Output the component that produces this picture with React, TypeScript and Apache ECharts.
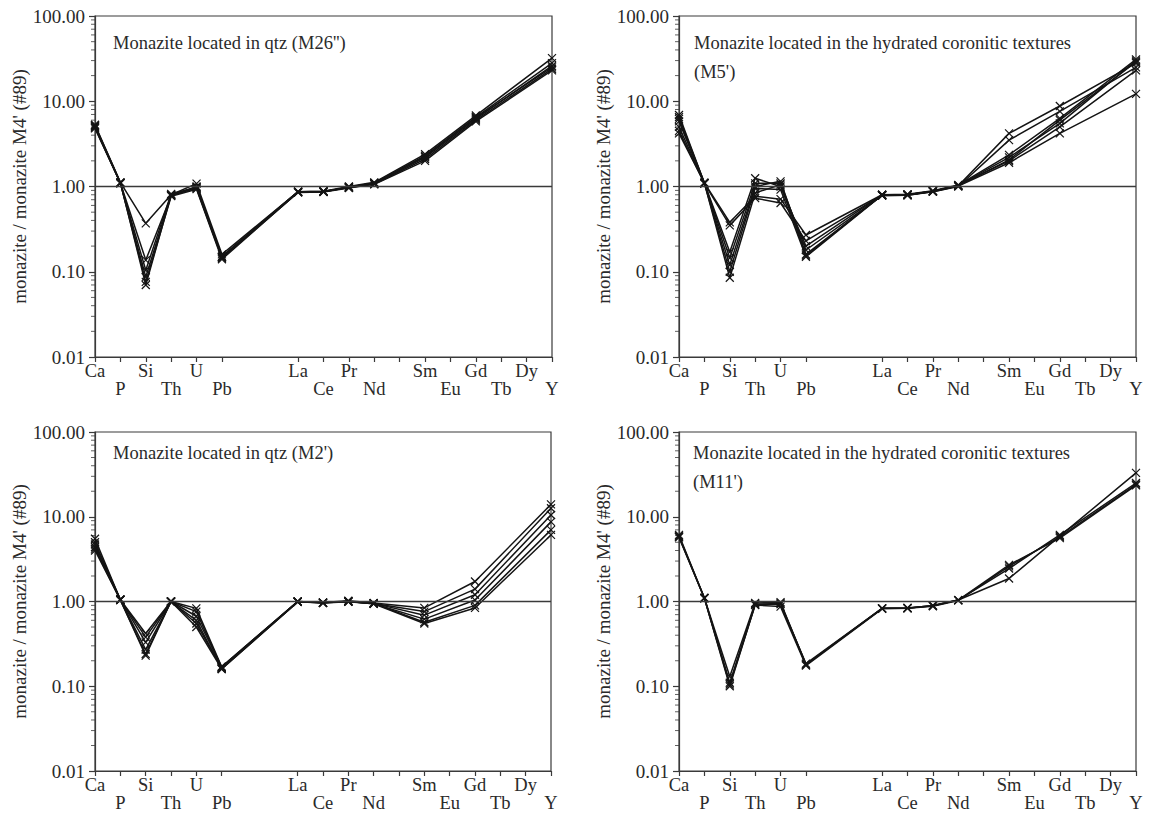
import React, { useEffect, useRef } from "react";
import * as echarts from "echarts";

const FONT = "'Liberation Serif', 'DejaVu Serif', serif";
const INK = "#141414";
const AXIS = "#3a3a3a";

// x categories (empty = gap positions)
const elements = ["Ca", "P", "Si", "Th", "U", "Pb", "", "", "La", "Ce", "Pr", "Nd", "", "Sm", "Eu", "Gd", "Tb", "Dy", "Y"];
const bottomRowLabels = ["P", "Th", "Pb", "Ce", "Nd", "Eu", "Tb", "Y"];
const yTickLabels = ["0.01", "0.10", "1.00", "10.00", "100.00"];
const minorTickValues = [
  0.02, 0.03, 0.04, 0.05, 0.06, 0.07, 0.08, 0.09,
  0.2, 0.3, 0.4, 0.5, 0.6, 0.7, 0.8, 0.9,
  2, 3, 4, 5, 6, 7, 8, 9,
  20, 30, 40, 50, 60, 70, 80, 90,
];

// order: Ca, P, Si, Th, U, Pb, -, -, La, Ce, Pr, Nd, -, Sm, Eu, Gd, Tb, Dy, Y
const _ = null;
// Panel 1: Monazite located in qtz (M26'')
const m26a = [5.3, 1.12, 0.37, 0.80, 1.08, 0.16, _, _, 0.87, 0.88, 1.00, 1.12, _, 2.40, _, 6.8, _, _, 32];
const m26b = [5.1, 1.10, 0.137, 0.78, 1.00, 0.15, _, _, 0.86, 0.87, 0.98, 1.10, _, 2.30, _, 6.5, _, _, 28];
const m26c = [5.0, 1.10, 0.104, 0.82, 0.97, 0.15, _, _, 0.87, 0.88, 0.97, 1.08, _, 2.20, _, 6.2, _, _, 26];
const m26d = [4.9, 1.09, 0.087, 0.79, 0.95, 0.145, _, _, 0.85, 0.86, 0.96, 1.07, _, 2.10, _, 6.0, _, _, 24];
const m26e = [4.8, 1.10, 0.076, 0.77, 0.93, 0.14, _, _, 0.86, 0.87, 0.97, 1.06, _, 2.00, _, 5.8, _, _, 23];
const m26f = [5.2, 1.11, 0.070, 0.80, 0.98, 0.15, _, _, 0.87, 0.87, 0.99, 1.09, _, 2.25, _, 6.4, _, _, 25];

// Panel 2: hydrated coronitic textures (M5')
const m5a = [6.5, 1.10, 0.38, 0.77, 0.71, 0.27, _, _, 0.80, 0.80, 0.88, 1.02, _, 4.2, _, 8.8, _, _, 28];
const m5b = [5.8, 1.09, 0.35, 0.73, 0.64, 0.23, _, _, 0.79, 0.79, 0.87, 1.00, _, 3.5, _, 7.6, _, _, 25];
const m5c = [6.9, 1.10, 0.17, 1.25, 1.00, 0.20, _, _, 0.80, 0.81, 0.89, 1.04, _, 2.35, _, 6.3, _, _, 31];
const m5d = [6.2, 1.10, 0.145, 1.09, 1.09, 0.18, _, _, 0.78, 0.79, 0.88, 1.03, _, 2.2, _, 5.5, _, _, 30];
const m5e = [5.0, 1.10, 0.12, 1.00, 1.15, 0.16, _, _, 0.79, 0.80, 0.88, 1.02, _, 2.05, _, 6.0, _, _, 29];
const m5f = [4.5, 1.09, 0.10, 0.95, 0.92, 0.15, _, _, 0.79, 0.80, 0.87, 1.01, _, 1.9, _, 4.2, _, _, 12.2];
const m5g = [4.2, 1.10, 0.085, 0.84, 1.05, 0.155, _, _, 0.80, 0.80, 0.88, 1.03, _, 2.0, _, 5.0, _, _, 23];

// Panel 3: Monazite located in qtz (M2')
const m2a = [5.5, 1.05, 0.42, 1.00, 0.83, 0.17, _, _, 1.00, 0.97, 1.02, 0.96, _, 0.84, _, 1.72, _, _, 14];
const m2b = [5.0, 1.05, 0.38, 1.00, 0.76, 0.165, _, _, 0.99, 0.97, 1.00, 0.95, _, 0.76, _, 1.40, _, _, 12.6];
const m2c = [4.7, 1.06, 0.33, 1.00, 0.67, 0.17, _, _, 1.00, 0.96, 1.01, 0.95, _, 0.69, _, 1.20, _, _, 10.5];
const m2d = [4.4, 1.05, 0.27, 0.99, 0.60, 0.16, _, _, 0.99, 0.97, 1.00, 0.94, _, 0.62, _, 1.04, _, _, 8.7];
const m2e = [4.2, 1.04, 0.24, 1.00, 0.55, 0.165, _, _, 1.00, 0.97, 1.00, 0.95, _, 0.57, _, 0.90, _, _, 7.0];
const m2f = [4.0, 1.05, 0.23, 1.00, 0.50, 0.16, _, _, 0.99, 0.96, 0.99, 0.94, _, 0.55, _, 0.84, _, _, 6.1];

// Panel 4: hydrated coronitic textures (M11')
const m11a = [6.1, 1.10, 0.13, 0.96, 0.98, 0.18, _, _, 0.83, 0.83, 0.90, 1.04, _, 1.87, _, 5.9, _, _, 33];
const m11b = [5.9, 1.10, 0.11, 0.93, 0.95, 0.18, _, _, 0.83, 0.84, 0.89, 1.04, _, 2.45, _, 6.1, _, _, 25];
const m11c = [5.8, 1.09, 0.105, 0.91, 0.87, 0.175, _, _, 0.82, 0.83, 0.88, 1.03, _, 2.6, _, 5.8, _, _, 24];
const m11d = [5.7, 1.10, 0.10, 0.92, 0.93, 0.185, _, _, 0.83, 0.84, 0.89, 1.04, _, 2.7, _, 5.6, _, _, 23.5];

const panelData = [
  [m26a, m26b, m26c, m26d, m26e, m26f],
  [m5a, m5b, m5c, m5d, m5e, m5f, m5g],
  [m2a, m2b, m2c, m2d, m2e, m2f],
  [m11a, m11b, m11c, m11d],
];

const panelTitles = [
  "Monazite located in qtz (M26'')",
  "Monazite located in the hydrated coronitic textures\n(M5')",
  "Monazite located in qtz (M2')",
  "Monazite located in the hydrated coronitic textures\n(M11')",
];

const yName = "monazite / monazite M4' (#89)";

const GRIDS = [
  { left: 95, top: 16, width: 457, height: 341 },
  { left: 679, top: 16, width: 457, height: 341 },
  { left: 95, top: 432, width: 456, height: 339 },
  { left: 679, top: 432, width: 457, height: 339 },
];
const TITLE_POS = [
  { left: 113, top: 28 },
  { left: 694, top: 28 },
  { left: 113, top: 438 },
  { left: 693, top: 438 },
];

const CROSS = "path://M0,0L10,10M10,0L0,10";

export default function App() {
  const ref = useRef<HTMLDivElement>(null);
  useEffect(() => {
    if (!ref.current) return;
    const chart = echarts.init(ref.current, null, { renderer: "svg" });

    const series: any[] = [];
    panelData.forEach((sets, p) => {
      sets.forEach((d, k) => {
        series.push({
          type: "line",
          xAxisIndex: p,
          yAxisIndex: p,
          data: d,
          connectNulls: true,
          symbol: CROSS,
          symbolSize: 8,
          lineStyle: { color: INK, width: 1.5 },
          itemStyle: { color: "none", borderColor: INK, borderWidth: 1.2 },
          emphasis: { disabled: true },
          markLine:
            k === 0
              ? {
                  silent: true,
                  symbol: "none",
                  label: { show: false },
                  lineStyle: { color: AXIS, width: 1.3, type: "solid" },
                  data: [{ yAxis: 1 }],
                }
              : undefined,
        });
      });
      series.push({
        type: "scatter",
        xAxisIndex: p,
        yAxisIndex: p,
        data: minorTickValues.map((v) => [0, v]),
        symbol: "rect",
        symbolSize: [4, 1],
        symbolOffset: [-2, 0],
        itemStyle: { color: AXIS },
        silent: true,
        clip: false,
      });
    });

    const option: any = {
      animation: false,
      backgroundColor: "#ffffff",
      title: panelTitles.map((t, i) => ({
        text: t,
        left: TITLE_POS[i].left,
        top: TITLE_POS[i].top,
        padding: 0,
        textStyle: {
          fontFamily: FONT,
          fontSize: 18.5,
          fontWeight: "normal",
          color: "#2a2a2a",
          lineHeight: 29,
        },
      })),
      grid: GRIDS.map((g) => ({
        ...g,
        show: true,
        borderColor: AXIS,
        borderWidth: 1.2,
        backgroundColor: "transparent",
        containLabel: false,
      })),
      xAxis: GRIDS.map((_g, i) => ({
        type: "category",
        gridIndex: i,
        data: elements,
        boundaryGap: false,
        axisLine: { show: true, lineStyle: { color: AXIS, width: 1.2 } },
        axisTick: {
          show: true,
          interval: (idx: number) => idx !== 6 && idx !== 7,
          length: 5,
          lineStyle: { color: AXIS, width: 1.2 },
        },
        axisLabel: {
          interval: 0,
          fontFamily: FONT,
          fontSize: 18.5,
          color: "#2a2a2a",
          lineHeight: 18,
          margin: 5,
          formatter: (v: string) => (bottomRowLabels.includes(v) ? "\n" + v : v),
        },
        splitLine: { show: false },
      })),
      yAxis: GRIDS.map((_g, i) => ({
        type: "log",
        logBase: 10,
        gridIndex: i,
        min: 0.01,
        max: 100,
        axisLine: { show: true, lineStyle: { color: AXIS, width: 1.2 } },
        axisTick: { show: true, length: 6, lineStyle: { color: AXIS, width: 1.2 } },
        axisLabel: {
          fontFamily: FONT,
          fontSize: 19,
          color: "#2a2a2a",
          margin: 10,
          formatter: (v: number) => {
            const s = Number(v).toFixed(2);
            return yTickLabels.includes(s) ? s : "";
          },
        },
        splitLine: { show: false },
        name: yName,
        nameLocation: "middle",
        nameGap: 62,
        nameTextStyle: { fontFamily: FONT, fontSize: 19, color: "#2a2a2a" },
      })),
      series,
    };
    chart.setOption(option);
    return () => chart.dispose();
  }, []);
  return (
    <div
      ref={ref}
      style={{ position: "absolute", left: 0, top: 0, width: 1150, height: 820, background: "#fff" }}
    />
  );
}
